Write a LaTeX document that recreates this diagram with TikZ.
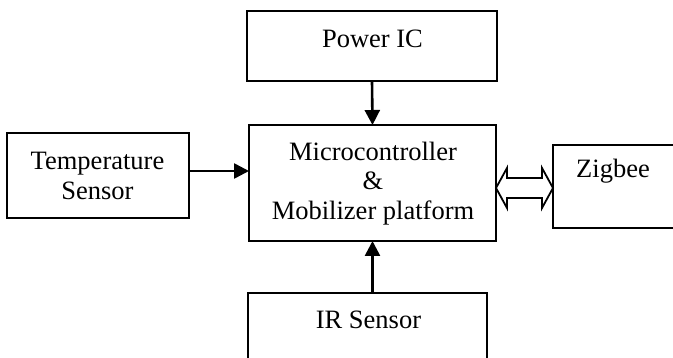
\documentclass[tikz,border=0pt]{standalone}
\usepackage{fontspec}
\setmainfont{Liberation Serif}
\usetikzlibrary{arrows.meta,calc}
\begin{document}
\begin{tikzpicture}[x=1pt,y=-1pt,
  box/.style={draw,line width=2pt,inner sep=0pt,outer sep=0pt},
  lbl/.style={anchor=base,inner sep=0pt,font=\fontsize{26.5}{30}\selectfont},
  arr/.style={line width=2.6pt,-{Triangle[length=15pt,width=15pt]}}]
\useasboundingbox (0,0) rectangle (673,358);
\clip (0,0) rectangle (673,358);
% boxes
\node[box,minimum width=250pt,minimum height=70pt] (power) at (372,46) {};
\node[box,minimum width=247pt,minimum height=116pt] (main) at (372.5,183) {};
\node[box,minimum width=182pt,minimum height=85pt] (temp) at (98,175.5) {};
\node[box,minimum width=147pt,minimum height=83pt] (zig) at (626.5,186.5) {};
\node[box,minimum width=239pt,minimum height=87pt] (ir) at (367.5,336.5) {};
% labels
\node[lbl] (tpower) at (372.5,48) {Power IC};
\node[lbl] (ttemp1) at (97.5,170) {Temperature};
\node[lbl] (ttemp2) at (97.5,200) {Sensor};
\node[lbl] (tmain1) at (373,161) {Microcontroller};
\node[lbl] (tmain2) at (373,190) {\&};
\node[lbl] (tmain3) at (373,220) {Mobilizer platform};
\node[lbl] (tzig) at (613,178) {Zigbee};
\node[lbl] (tir) at (368.5,329) {IR Sensor};
% connectors
\draw[arr] (power.south) -- (main.north);
\coordinate (ts) at ($(temp.east)+(0,-4.5)$);
\draw[arr] (ts) -- (main.west |- ts);
\draw[arr] (ir.north -| main.south) -- (main.south);
\coordinate (dl) at ($(main.east)+(0,5)$);
\coordinate (dr) at (zig.west |- dl);
\draw[line width=1.8pt,line join=miter]
  (dl) -- ++(11,-20) -- ++(0,10) -- ($(dr)+(-11,-10)$) -- ++(0,-10)
  -- (dr) -- ++(-11,20) -- ++(0,-10) -- ($(dl)+(11,10)$) -- ++(0,10) -- cycle;
\end{tikzpicture}
\end{document}
